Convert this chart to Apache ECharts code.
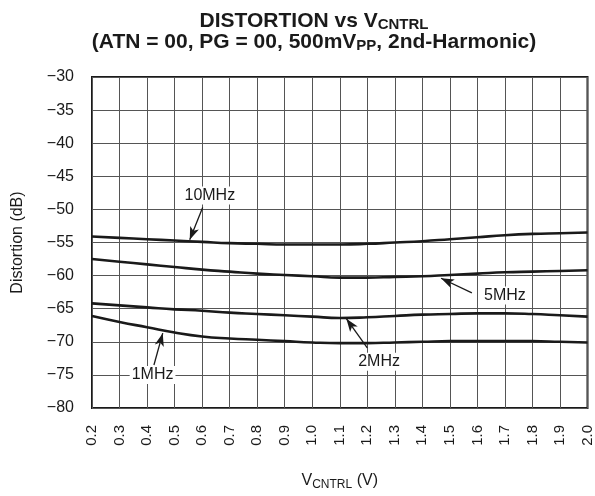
<!DOCTYPE html>
<html>
<head>
<meta charset="utf-8">
<script src="https://cdn.jsdelivr.net/npm/echarts@6/dist/echarts.min.js"></script>
<style>
  html, body { margin: 0; padding: 0; background: #fff; }
  #chart { width: 595px; height: 496px; }
</style>
</head>
<body>
<div id="chart"></div>
<script>
// V_CNTRL (V)
const vctrl = [0.2, 0.3, 0.4, 0.5, 0.6, 0.7, 0.8, 0.9, 1.0, 1.1, 1.2, 1.3, 1.4, 1.5, 1.6, 1.7, 1.8, 1.9, 2.0];
// distortion (dB) per curve
const d10MHz = [-54.1, -54.3, -54.5, -54.7, -54.9, -55.1, -55.2, -55.3, -55.3, -55.3, -55.2, -55.0, -54.8, -54.5, -54.2, -53.9, -53.7, -53.6, -53.5];
const d5MHz = [-57.5, -57.9, -58.3, -58.7, -59.1, -59.4, -59.7, -59.9, -60.1, -60.3, -60.3, -60.2, -60.1, -59.9, -59.7, -59.5, -59.4, -59.3, -59.2];
const d2MHz = [-64.2, -64.5, -64.8, -65.1, -65.3, -65.6, -65.8, -66.0, -66.2, -66.4, -66.3, -66.1, -65.9, -65.8, -65.7, -65.7, -65.8, -66.0, -66.2];
const d1MHz = [-66.1, -67.0, -67.8, -68.6, -69.2, -69.5, -69.7, -69.9, -70.1, -70.2, -70.2, -70.1, -70.0, -69.9, -69.9, -69.9, -69.9, -70.0, -70.1];

// callouts: label, label point, arrow tail, arrow head (data units)
const callouts = [
  { name: '10MHz', text: [0.628, -47.9], tail: [0.602, -49.7], head: [0.555, -54.6] },
  { name: '5MHz', text: [1.70, -63.0], tail: [1.58, -62.6], head: [1.468, -60.4] },
  { name: '2MHz', text: [1.243, -73.0], tail: [1.20, -70.9], head: [1.124, -66.5] },
  { name: '1MHz', text: [0.42, -75.0], tail: [0.425, -73.5], head: [0.457, -68.7] }
];

const font = '"Liberation Sans", Arial, Helvetica, sans-serif';
const ink = '#1a1a1a';

function makeSeries(name, vals) {
  let c = callouts.find(o => o.name === name);
  return {
    name: name,
    type: 'line',
    smooth: true,
    symbol: 'none',
    data: vctrl.map((v, i) => [v, vals[i]]),
    lineStyle: { color: ink, width: 2.6 },
    z: 3,
    markLine: {
      silent: true,
      lineStyle: { color: ink, width: 1.3, type: 'solid' },
      label: { show: false },
      data: [[
        { coord: c.tail, symbol: 'none' },
        { coord: c.head, symbol: 'arrow', symbolSize: [7, 13] }
      ]]
    },
    markPoint: {
      silent: true,
      symbol: 'rect',
      symbolSize: 1,
      itemStyle: { color: 'rgba(0,0,0,0)' },
      label: {
        show: true,
        position: 'inside',
        formatter: name,
        fontFamily: font,
        fontSize: 16,
        color: ink,
        backgroundColor: '#fff',
        padding: [1, 2]
      },
      data: [{ coord: c.text }]
    }
  };
}

let myChart = echarts.init(document.getElementById('chart'));

let option = {
  backgroundColor: '#fff',
  animation: false,
  title: {
    text: '{b|DISTORTION vs V}{s|CNTRL}\n{b|(ATN = 00, PG = 00, 500mV}{s|PP}{b|, 2nd-Harmonic)}',
    left: 309,
    textAlign: 'center',
    top: 6,
    textStyle: {
      rich: {
        b: { fontFamily: font, fontWeight: 'bold', fontSize: 21, color: ink, lineHeight: 21 },
        s: { fontFamily: font, fontWeight: 'bold', fontSize: 15, color: ink, lineHeight: 14, verticalAlign: 'bottom' }
      }
    }
  },
  grid: {
    left: 92,
    top: 77,
    right: 6,
    bottom: 82,
    show: true,
    borderColor: ink,
    borderWidth: 2,
    backgroundColor: 'transparent'
  },
  xAxis: {
    type: 'value',
    min: 0.2,
    max: 2.0,
    interval: 0.1,
    name: '{n|V}{s|CNTRL}{n| (V)}',
    nameLocation: 'middle',
    nameGap: 63,
    nameTextStyle: {
      rich: {
        n: { fontFamily: font, fontSize: 16, color: ink, lineHeight: 20 },
        s: { fontFamily: font, fontSize: 12, color: ink, lineHeight: 12, verticalAlign: 'bottom' }
      }
    },
    axisLine: { show: false },
    axisTick: { show: false },
    splitLine: { show: true, lineStyle: { color: '#555', width: 1 } },
    axisLabel: {
      rotate: 90,
      margin: 17,
      fontFamily: font,
      fontSize: 15,
      color: ink,
      formatter: v => v.toFixed(1)
    }
  },
  yAxis: {
    type: 'value',
    min: -80,
    max: -30,
    interval: 5,
    name: 'Distortion (dB)',
    nameLocation: 'middle',
    nameGap: 66,
    nameTextStyle: { fontFamily: font, fontSize: 16, color: ink },
    axisLine: { show: false },
    axisTick: { show: false },
    splitLine: { show: true, lineStyle: { color: '#555', width: 1 } },
    axisLabel: {
      margin: 18,
      fontFamily: font,
      fontSize: 16,
      color: ink,
      formatter: v => String(v).replace('-', '\u2212')
    }
  },
  series: [
    makeSeries('10MHz', d10MHz),
    makeSeries('5MHz', d5MHz),
    makeSeries('2MHz', d2MHz),
    makeSeries('1MHz', d1MHz)
  ]
};

myChart.setOption(option);
</script>
</body>
</html>
